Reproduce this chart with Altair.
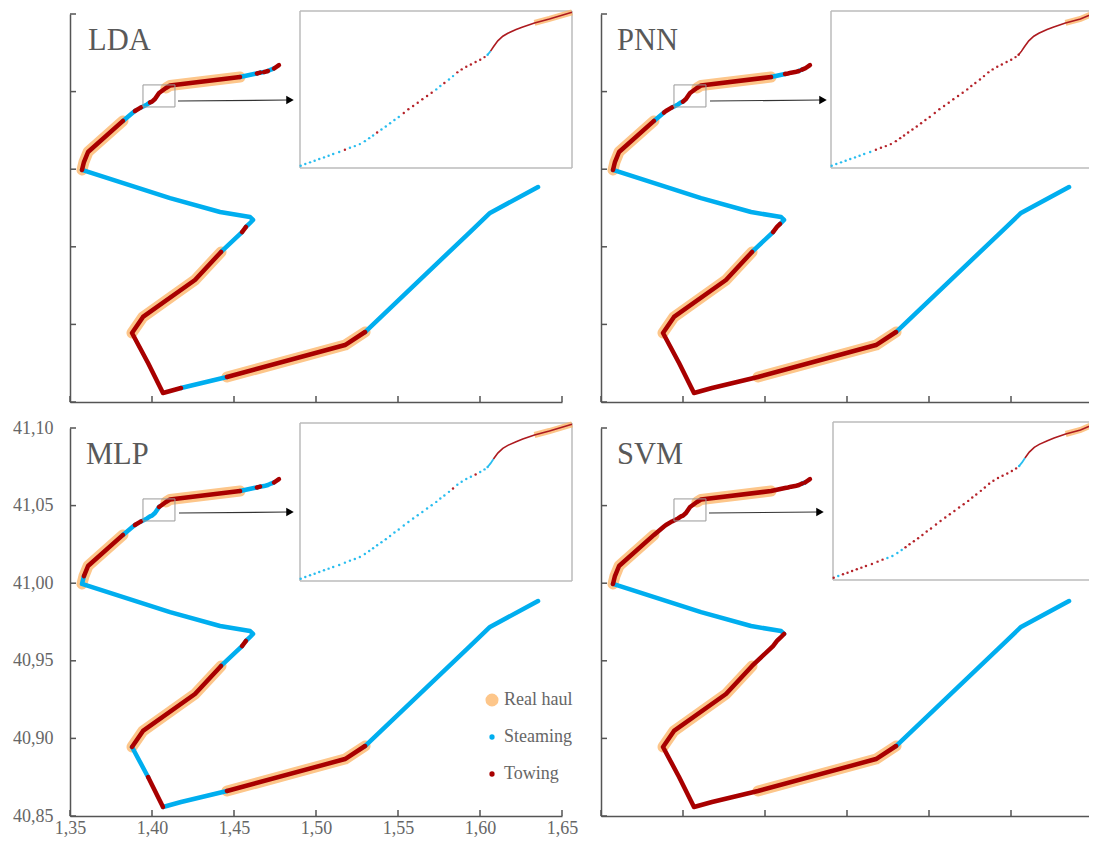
import altair as alt
import pandas as pd

FONT = "Liberation Serif"
GREY = "#595959"
BLUE = "#00AEEF"
RED = "#A80000"
HAUL = "#FDC68A"

# Vessel track, north tip to south-east end
LON = [1.4774, 1.4744, 1.4726, 1.4707, 1.4683, 1.4659, 1.4640, 1.4622, 1.4537, 1.4110, 1.4085,
       1.4043, 1.4018, 1.4000, 1.3988, 1.3970, 1.3933, 1.3896, 1.3884, 1.3823, 1.3610, 1.3585,
       1.3573, 1.4110, 1.4415, 1.4598, 1.4616, 1.4592, 1.4573, 1.4549, 1.4421, 1.4262, 1.3945,
       1.3878, 1.3976, 1.4067, 1.4177, 1.4457, 1.5177, 1.5299, 1.5939, 1.6061, 1.6354]
LAT = [41.0671, 41.0649, 41.0642, 41.0633, 41.0626, 41.0622, 41.0617, 41.0613, 41.0594, 41.0539, 41.0523,
       41.0491, 41.0452, 41.0435, 41.0430, 41.0417, 41.0398, 41.0375, 41.0365, 41.0311, 41.0111, 41.0046,
       40.9995, 40.9814, 40.9724, 40.9692, 40.9673, 40.9647, 40.9628, 40.9595, 40.9467, 40.9286, 40.9048,
       40.8945, 40.8751, 40.8558, 40.8590, 40.8661, 40.8867, 40.8951, 40.9595, 40.9718, 40.9885]

# Stretches of the track classified as towing (first and last vertex)
TOW = {
    "LDA": [(0, 1), (3, 4), (5, 6), (8, 14), (16, 17), (19, 22), (28, 29), (30, 36), (37, 39)],
    "PNN": [(0, 2), (3, 7), (8, 13), (16, 18), (19, 22), (27, 29), (30, 39)],
    "MLP": [(0, 1), (5, 6), (8, 11), (16, 17), (19, 21), (28, 29), (30, 33), (34, 35), (37, 39)],
    "SVM": [(0, 1), (2, 22), (26, 39)],
}
REAL_HAUL = [(8, 10), (19, 22), (30, 33), (37, 39)]

# Zoomed detail: individual positions
DOT_LON = [1.39455, 1.39488, 1.39522, 1.39555, 1.39588, 1.39622, 1.39655, 1.39688, 1.39731, 1.39772, 1.39808,
           1.39843, 1.39879, 1.39915, 1.39946, 1.39974, 1.40003, 1.40034, 1.40065, 1.40096, 1.40127, 1.40158,
           1.40194, 1.40227, 1.40261, 1.40294, 1.40327, 1.40361, 1.40394, 1.40427, 1.40456, 1.40485, 1.40518,
           1.40547, 1.40578, 1.40609, 1.40642, 1.40675, 1.40709, 1.40742, 1.40773, 1.40795]
DOT_LAT = [41.04031, 41.04046, 41.04061, 41.04076, 41.04091, 41.04106, 41.04121, 41.04136, 41.04154, 41.04175, 41.04193,
           41.04208, 41.04226, 41.04253, 41.04280, 41.04304, 41.04331, 41.04358, 41.04385, 41.04415, 41.04445, 41.04472,
           41.04508, 41.04541, 41.04571, 41.04601, 41.04631, 41.04661, 41.04691, 41.04721, 41.04751, 41.04778, 41.04811,
           41.04841, 41.04875, 41.04902, 41.04926, 41.04947, 41.04968, 41.04989, 41.05013, 41.05034]
DOT_TOW = {
    "LDA": [(9, 9), (16, 16), (22, 28), (31, 31), (34, 40)],
    "PNN": [(9, 41)],
    "MLP": [(33, 33), (38, 38)],
    "SVM": [(0, 0), (2, 10), (15, 40)],
}
# Zoomed detail: the densely sampled end, drawn as a line
END_LON = [1.40795, 1.40816, 1.40837, 1.40868, 1.40904, 1.40940, 1.40999, 1.41047, 1.41131, 1.41238, 1.41400]
END_LAT = [41.05034, 41.05067, 41.05106, 41.05160, 41.05202, 41.05229, 41.05262, 41.05286, 41.05322, 41.05358, 41.05418]
END_STEAM_EDGES = {"LDA": 1, "PNN": 0, "MLP": 2, "SVM": 2}
END_HAUL_FROM = 8

BOX_LON = [1.3945, 1.4140]
BOX_LAT = [41.0401, 41.0543]
CUT_LON = 1.4135  # the right-hand detail panels run off the page edge here

X_TICKS = [1.35, 1.40, 1.45, 1.50, 1.55, 1.60, 1.65]
Y_TICKS = [40.85, 40.90, 40.95, 41.00, 41.05, 41.10]
LEGEND_NAMES = ["Real haul", "Steaming", "Towing"]

W, H = 492, 388
LABEL_EXPR = "replace(format(datum.value, '.2f'), '.', ',')"


def segments(tow):
    """Split the track into runs of equal state."""
    rows, seg, prev = [], 0, None
    for e in range(len(LON) - 1):
        state = "t" if any(a <= e < b for a, b in tow) else "s"
        if state != prev:
            seg += 1
            rows.append(dict(seg=seg, i=e, lon=LON[e], lat=LAT[e], state=state))
        rows.append(dict(seg=seg, i=e + 1, lon=LON[e + 1], lat=LAT[e + 1], state=state))
        prev = state
    return pd.DataFrame(rows)


def haul_rows():
    rows = []
    for k, (a, b) in enumerate(REAL_HAUL):
        for i in range(a, b + 1):
            rows.append(dict(seg=k, i=i, lon=LON[i], lat=LAT[i]))
    return pd.DataFrame(rows)


def panel(name, show_x, show_y, inset_x, inset_y, arrow, title_x, cut=False, legend=False):
    xs = alt.Scale(domain=[1.35, 1.65], nice=False, zero=False)
    ys = alt.Scale(domain=[40.85, 41.10], nice=False, zero=False)
    axis_common = dict(title=None, grid=False, ticks=False, domainColor="#555555",
                       domainWidth=1.5, labelFont=FONT, labelFontSize=18, labelColor="#666666",
                       labelExpr=LABEL_EXPR, labelOverlap=False, labelFlush=False)
    ax_x = {**axis_common, "values": X_TICKS, "labels": show_x, "labelPadding": 3}
    ax_y = {**axis_common, "values": Y_TICKS, "labels": show_y, "labelPadding": 17}
    X = alt.X("lon:Q", scale=xs, axis=None)
    Y = alt.Y("lat:Q", scale=ys, axis=None)

    track = segments(TOW[name])
    line_enc = dict(x=X, y=Y, detail="seg:N", order="i:Q")
    layers = [
        alt.Chart(haul_rows()).mark_line(color=HAUL, strokeWidth=11, strokeCap="round", strokeJoin="round").encode(
            x=alt.X("lon:Q", scale=xs, axis=alt.Axis(**ax_x)),
            y=alt.Y("lat:Q", scale=ys, axis=alt.Axis(**ax_y)),
            detail="seg:N", order="i:Q"),
        alt.Chart(track[track.state == "s"]).mark_line(color=BLUE, strokeWidth=4.5, strokeCap="round", strokeJoin="round").encode(**line_enc),
        alt.Chart(track[track.state == "t"]).mark_line(color=RED, strokeWidth=4.5, strokeCap="round", strokeJoin="round").encode(**line_enc),
        alt.Chart(pd.DataFrame({"lon": X_TICKS})).mark_rule(color="#555555", strokeWidth=1.5).encode(
            x=alt.X("lon:Q", scale=xs, axis=None), y=alt.value(H), y2=alt.value(H - 6)),
        alt.Chart(pd.DataFrame({"lat": Y_TICKS})).mark_rule(color="#555555", strokeWidth=1.5).encode(
            y=alt.Y("lat:Q", scale=ys, axis=None), x=alt.value(0), x2=alt.value(6)),
        alt.Chart(pd.DataFrame({"name": [name]})).mark_text(
            font=FONT, fontSize=30.5, color=GREY, align="left", baseline="alphabetic"
        ).encode(x=alt.value(title_x), y=alt.value(36), text="name:N"),
        alt.Chart(pd.DataFrame({"a": [BOX_LON[0]], "b": [BOX_LON[1]], "c": [BOX_LAT[0]], "d": [BOX_LAT[1]]})).mark_rect(
            fill=None, stroke="#999999", strokeWidth=1
        ).encode(x=alt.X("a:Q", scale=xs, axis=None), x2="b:Q", y=alt.Y("c:Q", scale=ys, axis=None), y2="d:Q"),
        alt.Chart(pd.DataFrame({"k": [0]})).mark_rule(color="#333333", strokeWidth=1.2).encode(
            x=alt.value(arrow[0]), x2=alt.value(arrow[1] - 8), y=alt.value(arrow[2]), y2=alt.value(arrow[3])),
        alt.Chart(pd.DataFrame({"k": [0]})).mark_point(shape="triangle-right", filled=True, color="#000000", size=75, opacity=1).encode(
            x=alt.value(arrow[1] - 6), y=alt.value(arrow[3])),
    ]
    if legend:
        legend_df = pd.DataFrame({"state": LEGEND_NAMES, "lon": [1.5] * 3, "lat": [41.0] * 3})
        layers.append(
            alt.Chart(legend_df).transform_filter("datum.lat < 0").mark_circle(opacity=1).encode(
                x=alt.X("lon:Q", scale=xs, axis=None),
                y=alt.Y("lat:Q", scale=ys, axis=None),
                color=alt.Color("state:N", scale=alt.Scale(domain=LEGEND_NAMES, range=[HAUL, BLUE, RED]),
                                legend=alt.Legend(orient="none", legendX=413, legendY=677, title=None,
                                                  labelFont=FONT, labelFontSize=18, labelColor="#666666",
                                                  rowPadding=19, symbolStrokeWidth=0, symbolType="circle",
                                                  symbolOpacity=1, labelOffset=3)),
                size=alt.Size("state:N", scale=alt.Scale(type="ordinal", domain=LEGEND_NAMES, range=[170, 28, 28])),
            )
        )

    # Zoomed detail panel drawn with its own scales
    top_lon = CUT_LON if cut else BOX_LON[1]
    ix = alt.Scale(domain=[BOX_LON[0], top_lon], range=list(inset_x), nice=False, zero=False, clamp=True)
    iy = alt.Scale(domain=BOX_LAT, range=list(inset_y), nice=False, zero=False)
    IX = alt.X("lon:Q", scale=ix, axis=None)
    IY = alt.Y("lat:Q", scale=iy, axis=None)

    dots = pd.DataFrame({"lon": DOT_LON, "lat": DOT_LAT})
    dots["tow"] = [any(a <= i <= b for a, b in DOT_TOW[name]) for i in range(len(DOT_LON))]
    n_steam = END_STEAM_EDGES[name]
    end = pd.DataFrame({"lon": END_LON, "lat": END_LAT, "i": range(len(END_LON))})
    one = pd.DataFrame({"k": [0]})
    frame = dict(color="#bbbbbb", strokeWidth=1.5)
    x0, x1 = inset_x
    y0, y1 = inset_y

    inset_layers = [
        alt.Chart(pd.DataFrame({"a": [BOX_LON[0]], "b": [top_lon], "c": [BOX_LAT[0]], "d": [BOX_LAT[1]]})).mark_rect(
            fill="#ffffff", strokeWidth=0
        ).encode(x=alt.X("a:Q", scale=ix, axis=None), x2="b:Q", y=alt.Y("c:Q", scale=iy, axis=None), y2="d:Q"),
        alt.Chart(one).mark_rule(**frame).encode(x=alt.value(x0), x2=alt.value(x1), y=alt.value(y0), y2=alt.value(y0)),
        alt.Chart(one).mark_rule(**frame).encode(x=alt.value(x0), x2=alt.value(x1), y=alt.value(y1), y2=alt.value(y1)),
        alt.Chart(one).mark_rule(**frame).encode(x=alt.value(x0), x2=alt.value(x0), y=alt.value(y0), y2=alt.value(y1)),
    ]
    if not cut:
        inset_layers.append(alt.Chart(one).mark_rule(**frame).encode(x=alt.value(x1), x2=alt.value(x1), y=alt.value(y0), y2=alt.value(y1)))
    inset_layers += [
        alt.Chart(end.iloc[END_HAUL_FROM:]).mark_line(color="#FDB76B", strokeWidth=6, opacity=0.8).encode(x=IX, y=IY, order="i:Q"),
        alt.Chart(dots[~dots.tow]).mark_circle(color="#29BDEF", size=6, opacity=1).encode(x=IX, y=IY),
        alt.Chart(dots[dots.tow]).mark_circle(color="#B5232A", size=6, opacity=1).encode(x=IX, y=IY),
    ]
    if n_steam:
        inset_layers.append(alt.Chart(end.iloc[: n_steam + 1]).mark_line(color="#29BDEF", strokeWidth=1.8).encode(x=IX, y=IY, order="i:Q"))
    inset_layers.append(alt.Chart(end.iloc[n_steam:]).mark_line(color="#AD1A1F", strokeWidth=1.6).encode(x=IX, y=IY, order="i:Q"))

    return alt.layer(*layers, *inset_layers).resolve_scale(x="independent", y="independent").properties(width=W, height=H)


p1 = panel("LDA", False, False, (230, 502), (154, -3), (108, 226, 87, 86), 18)
p2 = panel("PNN", False, False, (230, 495), (154, -3), (109, 228, 87, 86), 16, cut=True)
p3 = panel("MLP", True, True, (230, 502), (153, -5), (109, 226, 85, 84), 16, legend=True)
p4 = panel("SVM", False, False, (232, 495), (152, -6), (108, 225, 85, 84), 16, cut=True)

chart = alt.concat(p1, p2, p3, p4, columns=2, spacing=alt.RowColnumber(row=26, column=39), bounds="flush").properties(
    padding={"left": 4, "top": -8, "right": -19, "bottom": 0}, background="#ffffff"
).configure_view(stroke=None)

chart.save("out.html", embed_options={"renderer": "svg", "actions": False})
